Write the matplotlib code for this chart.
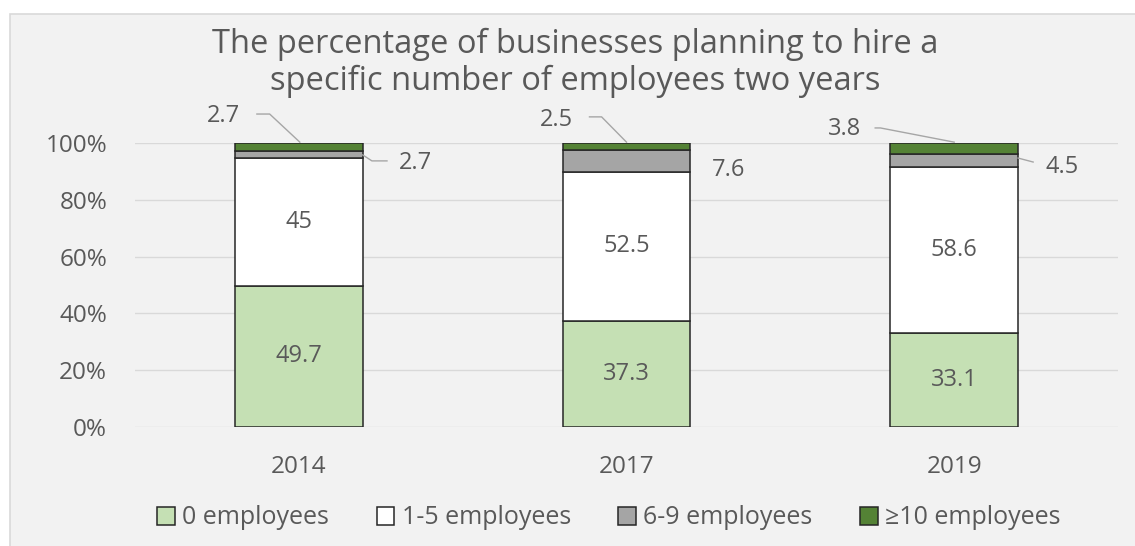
##############
#Dependencies
##############
import matplotlib
matplotlib.use('Agg')
import matplotlib.pyplot as plt
from matplotlib.patches import Patch, Rectangle

#################
#Data
#################
years = ['2014', '2017', '2019']
series_names = ['0 employees', '1-5 employees', '6-9 employees', '≥10 employees']
zero_emp = [49.7, 37.3, 33.1]
one_to_five = [45, 52.5, 58.6]
six_to_nine = [2.7, 7.6, 4.5]
ten_plus = [2.7, 2.5, 3.8]

title_text = 'The percentage of businesses planning to hire a\nspecific number of employees two years'

#################
#Configurations
#################
plt.rcParams['font.family'] = ['Open Sans', 'DejaVu Sans']
TXT = '#595959'
COLORS = ['#c5e0b4', '#ffffff', '#a5a5a5', '#548235']
LEADER = '#a6a6a6'
FS = 17


#################
#Methods
#################
def shares(series):
    # 100% stacked: each year scaled to its own total
    totals = [sum(v) for v in zip(*series)]
    return [[v / t * 100 for v, t in zip(s, totals)] for s in series]


def leader(ax, pts):
    xs = [p[0] for p in pts]
    ys = [p[1] for p in pts]
    ax.plot(xs, ys, color=LEADER, lw=1, clip_on=False, zorder=4)


def drawChart():
    series = [zero_emp, one_to_five, six_to_nine, ten_plus]
    scaled = shares(series)

    fig = plt.figure(figsize=(11.35, 5.46), dpi=100)
    fig.patch.set_facecolor('white')
    # grey chart area with thin border
    fig.patches.append(Rectangle((10 / 1135, -0.01), 1.0, 1 - 14 / 546 + 0.01,
                                 transform=fig.transFigure, facecolor='#f2f2f2',
                                 edgecolor='#d9d9d9', lw=1.2, zorder=-5))

    ax = fig.add_axes([135 / 1135, 1 - 427 / 546, 983 / 1135, 284 / 546])
    ax.set_facecolor('none')

    x = list(range(len(years)))
    bottom = [0] * len(years)
    for vals, col in zip(scaled, COLORS):
        ax.bar(x, vals, 0.39, bottom=bottom, color=col, edgecolor='#262626',
               lw=1.1, zorder=3)
        bottom = [b + v for b, v in zip(bottom, vals)]

    ax.set_xlim(-0.5, 2.5)
    ax.set_ylim(0, 100)
    ax.set_yticks([0, 20, 40, 60, 80, 100])
    ax.set_yticklabels(['%d%%' % t for t in [0, 20, 40, 60, 80, 100]])
    ax.set_xticks(x)
    ax.set_xticklabels(years)
    ax.grid(axis='y', color='#d9d9d9', lw=1, zorder=0)
    for s in ax.spines.values():
        s.set_visible(False)
    ax.tick_params(axis='both', length=0, labelsize=FS + 0.5, colors=TXT)
    ax.tick_params(axis='y', pad=20)
    ax.tick_params(axis='x', pad=20)

    # labels inside the two big segments
    for i in x:
        ax.text(i, scaled[0][i] / 2, '%g' % zero_emp[i], ha='center', va='center',
                fontsize=FS, color=TXT, zorder=5)
        ax.text(i, scaled[0][i] + scaled[1][i] / 2, '%g' % one_to_five[i],
                ha='center', va='center', fontsize=FS, color=TXT, zorder=5)

    # small segments get labels outside with leader lines
    lab = dict(ha='center', va='center', fontsize=FS, color=TXT)
    ax.text(-0.229, 109.5, '%g' % ten_plus[0], **lab)
    leader(ax, [(-0.128, 110.2), (-0.089, 110.2), (0.003, 100.3)])
    ax.text(0.357, 93.0, '%g' % six_to_nine[0], **lab)
    leader(ax, [(0.195, 95.8), (0.223, 93.7), (0.269, 93.7)])

    ax.text(0.786, 108.1, '%g' % ten_plus[1], **lab)
    leader(ax, [(0.887, 109.2), (0.924, 109.2), (1.0, 100.3)])
    ax.text(1.311, 90.5, '%g' % six_to_nine[1], **lab)

    ax.text(1.667, 104.9, '%g' % ten_plus[2], **lab)
    leader(ax, [(1.759, 105.3), (1.775, 105.3), (2.0, 100.3)])
    ax.text(2.33, 91.5, '%g' % six_to_nine[2], **lab)
    leader(ax, [(2.195, 94.7), (2.241, 93.3)])

    fig.text(575 / 1135, 1 - 63 / 546, title_text, ha='center', va='center',
             fontsize=23.5, color=TXT, linespacing=1.15)

    handles = [Patch(facecolor=c, edgecolor='#262626', lw=1.1) for c in COLORS]
    leg = fig.legend(handles, series_names, loc='center', ncol=4,
                     bbox_to_anchor=(609 / 1135, 1 - 518 / 546), frameon=False,
                     fontsize=FS + 1, handlelength=0.7, handleheight=0.7,
                     handletextpad=0.3, columnspacing=1.9)
    for t in leg.get_texts():
        t.set_color(TXT)

    fig.savefig('out.png', dpi=100)


#####################
#main function
#####################
def main():
    drawChart()


if __name__ == '__main__':
    main()
